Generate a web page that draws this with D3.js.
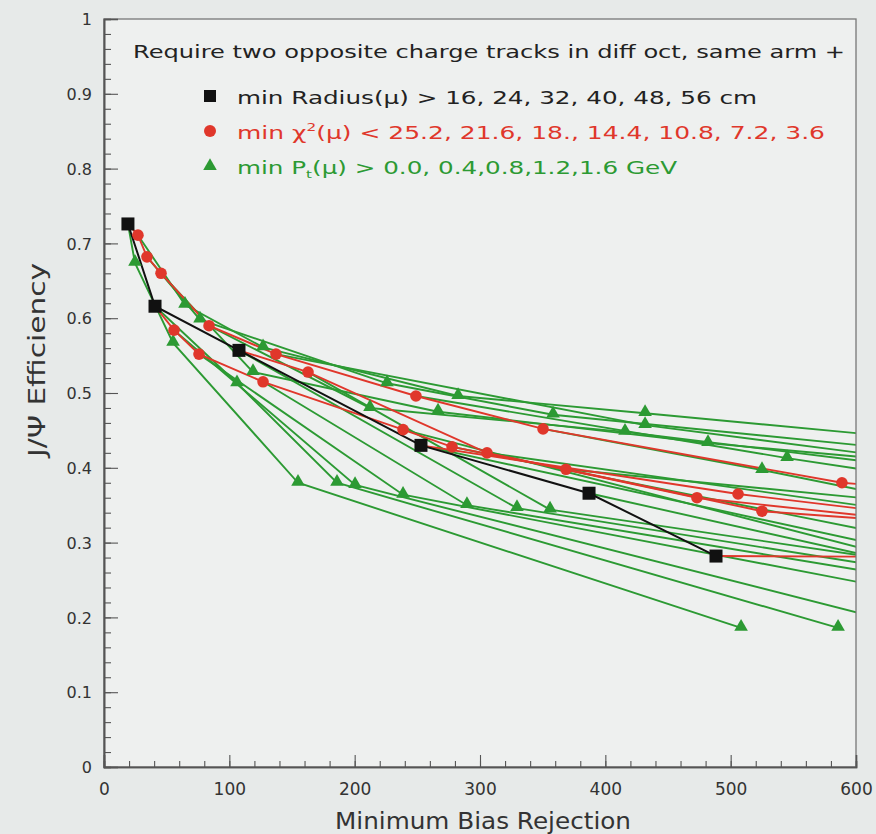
<!DOCTYPE html>
<html>
<head>
<meta charset="utf-8">
<script src="https://cdn.jsdelivr.net/npm/d3@7"></script>
<style>
html,body{margin:0;padding:0;background:#e7eae9;}
svg{display:block;}
</style>
</head>
<body>
<svg id="chart" width="876" height="834"></svg>
<script>
// ---------- DATA ----------
const xTickValues = [0, 100, 200, 300, 400, 500, 600];
const yTickValues = [0, 0.1, 0.2, 0.3, 0.4, 0.5, 0.6, 0.7, 0.8, 0.9, 1];
const yTickLabels = ["0", "0.1", "0.2", "0.3", "0.4", "0.5", "0.6", "0.7", "0.8", "0.9", "1"];

// min Radius cut (black squares)
const radiusRejection = [19.1, 40.7, 107.7, 252.9, 387.0, 488.3];
const radiusEfficiency = [0.726, 0.616, 0.557, 0.430, 0.366, 0.282];

// min chi2 cut lines (red circles), [rejection, efficiency]
const chi2Line1 = [[19.1,0.726],[27.1,0.711],[34.3,0.682],[45.5,0.660],[83.8,0.590],[137.2,0.552],[248.9,0.496],[350.3,0.452],[588.8,0.380],[640,0.373]];
const chi2Line2 = [[40.7,0.616],[55.9,0.584],[75.8,0.552],[126.9,0.515],[238.6,0.451],[277.7,0.428],[368.6,0.398],[525.0,0.342],[640,0.328]];
const chi2Line3 = [[107.7,0.557],[162.8,0.528],[305.6,0.420],[473.1,0.360],[640,0.330]];
const chi2Line4 = [[252.9,0.430],[505.9,0.365],[640,0.338]];
const chi2Line5 = [[488.3,0.282],[640,0.281]];
const chi2Lines = [chi2Line1, chi2Line2, chi2Line3, chi2Line4, chi2Line5];

// min Pt cut lines (green triangles), [rejection, efficiency]
const ptLines = [
  [[19.1,0.726],[24.7,0.674],[55.1,0.567],[154.8,0.380],[508.3,0.186]],
  [[27.1,0.711],[64.6,0.618],[126.9,0.561],[282.5,0.496],[431.7,0.473],[640,0.440]],
  [[34.3,0.682],[76.6,0.598],[225.8,0.513],[358.3,0.471],[640,0.424]],
  [[45.5,0.660],[118.9,0.528],[266.5,0.475],[481.9,0.433],[640,0.409]],
  [[83.8,0.590],[212.2,0.480],[415.7,0.448],[640,0.402]],
  [[137.2,0.552],[431.7,0.457],[640,0.412]],
  [[248.9,0.496],[545.0,0.413],[640,0.389]],
  [[350.3,0.452],[525.0,0.397],[640,0.358]],
  [[40.7,0.616],[106.1,0.513],[185.9,0.380],[585.7,0.186]],
  [[55.9,0.584],[200.3,0.377],[640,0.190]],
  [[75.8,0.552],[238.6,0.364],[640,0.235]],
  [[126.9,0.515],[289.6,0.350],[640,0.253]],
  [[107.7,0.557],[329.5,0.346],[640,0.263]],
  [[162.8,0.528],[355.9,0.344],[640,0.274]],
  [[238.6,0.451],[640,0.277]],
  [[252.9,0.430],[640,0.289]],
  [[277.7,0.428],[640,0.306]],
  [[305.6,0.420],[640,0.341]],
  [[387.0,0.366],[640,0.271]],
  [[368.6,0.398],[640,0.354]]
];

const legendTitle = "Require two opposite charge tracks in diff oct, same arm +";
const xTitle = "Minimum Bias Rejection";
const yTitle = "J/\u03A8 Efficiency";

// ---------- LAYOUT ----------
const svg = d3.select("#chart");
const L = 104, R = 856, T = 19, B = 767;
const x = d3.scaleLinear().domain([0, 600]).range([L, R]);
const y = d3.scaleLinear().domain([0, 1]).range([B, T]);

const GREEN = "#2c9a33", RED = "#e0372b", BLACK = "#111";
const FONT = "'DejaVu Sans', 'Liberation Sans', sans-serif";

svg.append("rect").attr("x", L).attr("y", T).attr("width", R - L).attr("height", B - T)
  .attr("fill", "#eef0ef");

svg.append("defs").append("clipPath").attr("id", "clip")
  .append("rect").attr("x", L).attr("y", T).attr("width", R - L).attr("height", B - T);

const plot = svg.append("g").attr("clip-path", "url(#clip)");
const line = d3.line().x(d => x(d[0])).y(d => y(d[1]));
const inRange = d => d[0] >= 0 && d[0] <= 600;

// green lines
plot.selectAll("path.pt").data(ptLines).join("path")
  .attr("d", line).attr("fill", "none").attr("stroke", GREEN).attr("stroke-width", 1.9);
// red lines
plot.selectAll("path.chi").data(chi2Lines).join("path")
  .attr("d", line).attr("fill", "none").attr("stroke", RED).attr("stroke-width", 1.9);
// black line
const blackPts = radiusRejection.map((v, i) => [v, radiusEfficiency[i]]);
plot.append("path").datum(blackPts).attr("d", line).attr("fill", "none")
  .attr("stroke", BLACK).attr("stroke-width", 2);

// triangles
const tri = d3.symbol().type(d3.symbolTriangle).size(80);
const triPts = ptLines.flatMap(l => l.slice(1)).filter(inRange);
plot.selectAll("path.tri").data(triPts).join("path")
  .attr("d", tri).attr("fill", GREEN)
  .attr("transform", d => `translate(${x(d[0])},${y(d[1]) - 1})`);
// circles
const circPts = chi2Lines.flatMap(l => l.slice(1)).filter(inRange);
plot.selectAll("circle.c").data(circPts).join("circle")
  .attr("cx", d => x(d[0])).attr("cy", d => y(d[1])).attr("r", 5.8).attr("fill", RED);
// squares
plot.selectAll("rect.sq").data(blackPts).join("rect")
  .attr("x", d => x(d[0]) - 6.5).attr("y", d => y(d[1]) - 6.5)
  .attr("width", 13).attr("height", 13).attr("fill", BLACK);

// frame
svg.append("rect").attr("x", L).attr("y", T).attr("width", R - L).attr("height", B - T)
  .attr("fill", "none").attr("stroke", "#777").attr("stroke-width", 1.3);

// axes
const axisCol = "#555";
const yMinor = d3.range(0, 1.0001, 0.02);
const xMinor = d3.range(0, 600.1, 20);
const yAxMinor = svg.append("g").attr("transform", `translate(${L},0)`)
  .call(d3.axisLeft(y).tickValues(yMinor).tickSize(-7).tickFormat(""));
const yAx = svg.append("g").attr("transform", `translate(${L},0)`)
  .call(d3.axisLeft(y).tickValues(yTickValues).tickSize(-14).tickPadding(24)
    .tickFormat((d, i) => yTickLabels[i]));
const xAxMinor = svg.append("g").attr("transform", `translate(0,${B})`)
  .call(d3.axisBottom(x).tickValues(xMinor).tickSize(-6).tickFormat(""));
const xAx = svg.append("g").attr("transform", `translate(0,${B})`)
  .call(d3.axisBottom(x).tickValues(xTickValues).tickSize(-12).tickPadding(18).tickFormat(d3.format("d")));
[yAxMinor, yAx, xAxMinor, xAx].forEach(g => {
  g.select(".domain").attr("stroke", axisCol).attr("stroke-width", 1.6);
  g.selectAll(".tick line").attr("stroke", axisCol).attr("stroke-width", 1.1);
  g.selectAll("text").attr("font-family", FONT).attr("fill", "#333");
});
yAx.selectAll("text").attr("font-size", 16).attr("x", -12).attr("dy", "0.35em");
xAx.selectAll("text").attr("font-size", 17).attr("y", 16).attr("dy", "0.71em");

// axis titles
svg.append("text").attr("x", 483).attr("y", 829).attr("text-anchor", "middle")
  .attr("font-family", FONT).attr("font-size", 23).attr("fill", "#333")
  .attr("textLength", 296).attr("lengthAdjust", "spacingAndGlyphs").text(xTitle);
svg.append("text").attr("transform", "translate(45,360) rotate(-90)").attr("text-anchor", "middle")
  .attr("font-family", FONT).attr("font-size", 23).attr("fill", "#333")
  .attr("textLength", 194).attr("lengthAdjust", "spacingAndGlyphs").text(yTitle);

// legend
const lg = svg.append("g").attr("font-family", FONT);
lg.append("text").attr("x", 133).attr("y", 58).attr("font-size", 18).attr("fill", "#222")
  .attr("textLength", 712).attr("lengthAdjust", "spacingAndGlyphs").text(legendTitle);

lg.append("rect").attr("x", 204).attr("y", 90).attr("width", 12).attr("height", 12).attr("fill", BLACK);
const t1 = lg.append("text").attr("x", 237).attr("y", 104).attr("font-size", 18).attr("fill", "#222")
  .attr("textLength", 520).attr("lengthAdjust", "spacingAndGlyphs");
t1.text("min Radius(\u03BC) > 16, 24, 32, 40, 48, 56 cm");

lg.append("circle").attr("cx", 210).attr("cy", 131).attr("r", 6).attr("fill", RED);
const t2 = lg.append("text").attr("x", 237).attr("y", 139).attr("font-size", 18).attr("fill", RED)
  .attr("textLength", 588).attr("lengthAdjust", "spacingAndGlyphs");
t2.append("tspan").text("min \u03C7");
t2.append("tspan").attr("font-size", 11).attr("dy", -8).text("2");
t2.append("tspan").attr("dy", 8).text("(\u03BC) < 25.2, 21.6, 18., 14.4, 10.8, 7.2, 3.6");

lg.append("path").attr("d", d3.symbol().type(d3.symbolTriangle).size(80))
  .attr("transform", "translate(210,166)").attr("fill", GREEN);
const t3 = lg.append("text").attr("x", 237).attr("y", 174).attr("font-size", 18).attr("fill", GREEN)
  .attr("textLength", 440).attr("lengthAdjust", "spacingAndGlyphs");
t3.append("tspan").text("min P");
t3.append("tspan").attr("font-size", 11).attr("dy", 4).text("t");
t3.append("tspan").attr("dy", -4).text("(\u03BC) > 0.0, 0.4,0.8,1.2,1.6 GeV");
</script>
</body>
</html>
